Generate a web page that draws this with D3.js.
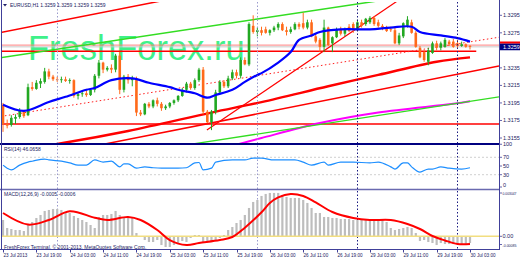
<!DOCTYPE html>
<html><head><meta charset="utf-8">
<script src="https://cdn.jsdelivr.net/npm/d3@7"></script>
<style>body{margin:0;background:#fff}svg{display:block}text{font-family:"Liberation Sans",Arial,sans-serif}</style>
</head><body><svg id="c" width="520" height="260"></svg>
<script>
// ---------- DATA ----------
const titleText = "EURUSD,H1  1.3259 1.3259 1.3259 1.3259";
const watermark = "FreshForex.ru";
const rsiTitle = "RSI(14) 46.0658";
const macdTitle = "MACD(12,26,9) -0.0005 -0.0006";
const copyright = "FreshForex Terminal, \u00A9 2001-2013, MetaQuotes Software Corp.";
const lastPrice = 1.3259;

const timeTickIdx = [0,8,16,24,32,40,48,56,64,72,80,88,96,104,112];
const timeTickLbl = ["23 Jul 2013","23 Jul 19:00","24 Jul 03:00","24 Jul 11:00","24 Jul 19:00","25 Jul 03:00","25 Jul 11:00","25 Jul 19:00","26 Jul 03:00","26 Jul 11:00","26 Jul 19:00","29 Jul 03:00","29 Jul 11:00","29 Jul 19:00","30 Jul 03:00"];
const priceTicks = [1.3295,1.3275,1.3235,1.3215,1.3195,1.3175,1.3155];
const rsiTicks = [100,70,50,30,0];
const rsiLevels = [70,30];
const macdTickVals = [0.003047,0,-0.00085];
const macdTickLbl = ["0.003047","0.00","-0.00085"];
const daySepLight = [13,61];
const daySepDark = [85,109];

const open = [1.3193,1.3171,1.3170,1.3177,1.3179,1.3185,1.3181,1.3213,1.3211,1.3217,
1.3219,1.3231,1.3225,1.3222,1.3221,1.3222,1.3220,1.3221,1.3203,1.3205,
1.3206,1.3204,1.3210,1.3226,1.3241,1.3233,1.3235,1.3233,1.3249,1.3210,
1.3225,1.3221,1.3223,1.3184,1.3182,1.3194,1.3191,1.3198,1.3194,1.3189,
1.3191,1.3195,1.3198,1.3203,1.3210,1.3217,1.3212,1.3221,1.3233,1.3185,
1.3173,1.3185,1.3207,1.3219,1.3214,1.3223,1.3230,1.3226,1.3244,1.3239,
1.3283,1.3276,1.3278,1.3279,1.3275,1.3278,1.3281,1.3285,1.3278,1.3276,
1.3279,1.3285,1.3286,1.3281,1.3287,1.3271,1.3267,1.3259,1.3281,1.3263,
1.3270,1.3279,1.3274,1.3282,1.3285,1.3278,1.3287,1.3285,1.3287,1.3292,
1.3287,1.3283,1.3281,1.3279,1.3278,1.3263,1.3271,1.3283,1.3287,1.3275,
1.3258,1.3253,1.3242,1.3252,1.3263,1.3258,1.3259,1.3265,1.3265,1.3263,
1.3260,1.3262,1.3260];
const high = [1.3195,1.3176,1.3181,1.3182,1.3189,1.3187,1.3217,1.3219,1.3221,1.3223,
1.3235,1.3234,1.3227,1.3225,1.3225,1.3225,1.3223,1.3222,1.3207,1.3209,
1.3211,1.3212,1.3228,1.3244,1.3242,1.3237,1.3239,1.3251,1.3253,1.3227,
1.3228,1.3226,1.3225,1.3187,1.3195,1.3196,1.3199,1.3201,1.3196,1.3193,
1.3196,1.3199,1.3204,1.3212,1.3219,1.3219,1.3223,1.3235,1.3236,1.3187,
1.3187,1.3210,1.3221,1.3221,1.3226,1.3233,1.3233,1.3247,1.3247,1.3287,
1.3295,1.3281,1.3282,1.3282,1.3279,1.3283,1.3287,1.3287,1.3282,1.3282,
1.3287,1.3287,1.3298,1.3290,1.3290,1.3274,1.3269,1.3290,1.3282,1.3271,
1.3281,1.3282,1.3281,1.3285,1.3287,1.3290,1.3290,1.3292,1.3294,1.3294,
1.3290,1.3285,1.3283,1.3282,1.3281,1.3275,1.3287,1.3294,1.3290,1.3277,
1.3260,1.3255,1.3258,1.3265,1.3266,1.3265,1.3269,1.3267,1.3268,1.3267,
1.3265,1.3263,1.3261];
const low = [1.3162,1.3166,1.3168,1.3171,1.3177,1.3178,1.3180,1.3209,1.3210,1.3212,
1.3217,1.3222,1.3220,1.3219,1.3218,1.3219,1.3217,1.3201,1.3199,1.3202,
1.3202,1.3203,1.3207,1.3223,1.3229,1.3231,1.3229,1.3230,1.3205,1.3207,
1.3217,1.3214,1.3180,1.3180,1.3181,1.3189,1.3189,1.3191,1.3186,1.3187,
1.3189,1.3193,1.3196,1.3202,1.3207,1.3210,1.3210,1.3219,1.3182,1.3172,
1.3164,1.3182,1.3205,1.3212,1.3212,1.3221,1.3223,1.3223,1.3238,1.3237,
1.3274,1.3271,1.3272,1.3274,1.3272,1.3276,1.3278,1.3277,1.3272,1.3274,
1.3278,1.3279,1.3279,1.3279,1.3270,1.3263,1.3253,1.3253,1.3260,1.3253,
1.3269,1.3272,1.3271,1.3276,1.3275,1.3277,1.3281,1.3283,1.3285,1.3283,
1.3281,1.3278,1.3276,1.3276,1.3262,1.3261,1.3269,1.3281,1.3274,1.3258,
1.3246,1.3242,1.3238,1.3251,1.3255,1.3255,1.3258,1.3260,1.3258,1.3258,
1.3259,1.3258,1.3256];
const close = [1.3171,1.3169,1.3178,1.3179,1.3186,1.3180,1.3213,1.3211,1.3218,1.3220,
1.3231,1.3225,1.3222,1.3221,1.3222,1.3220,1.3221,1.3203,1.3205,1.3206,
1.3204,1.3210,1.3226,1.3241,1.3233,1.3235,1.3233,1.3249,1.3210,1.3225,
1.3221,1.3223,1.3184,1.3182,1.3194,1.3191,1.3198,1.3194,1.3189,1.3191,
1.3195,1.3198,1.3203,1.3210,1.3217,1.3212,1.3221,1.3233,1.3185,1.3173,
1.3185,1.3207,1.3219,1.3214,1.3223,1.3230,1.3226,1.3244,1.3239,1.3285,
1.3276,1.3278,1.3275,1.3275,1.3278,1.3281,1.3285,1.3278,1.3276,1.3279,
1.3285,1.3282,1.3281,1.3287,1.3271,1.3265,1.3259,1.3281,1.3261,1.3270,
1.3279,1.3274,1.3279,1.3277,1.3278,1.3287,1.3283,1.3291,1.3292,1.3285,
1.3283,1.3281,1.3277,1.3278,1.3263,1.3272,1.3286,1.3290,1.3275,1.3259,
1.3247,1.3244,1.3255,1.3263,1.3258,1.3263,1.3267,1.3262,1.3259,1.3260,
1.3262,1.3259,1.3259];

// moving averages: [bar index, price]
const maBlue = [[0,1.3193],[5,1.3186],[11,1.3196],[15,1.3202],[20,1.3210],[22,1.3212],[26,1.3221],[31,1.3223],[35,1.3218],[40,1.3213],[42,1.3210],[46,1.3206],[49,1.3201],[51,1.3204],[55,1.3210],[58,1.3219],[61,1.3227],[62,1.3229],[66,1.3241],[69,1.3253],[71,1.3267],[74,1.3272],[76,1.3276],[81,1.3279],[88,1.3279],[93,1.3281],[98,1.3282],[100,1.3276],[105,1.3272],[109,1.3269],[112,1.3265]];
const maRed = [[0,1.3139],[14,1.3149],[30,1.3163],[50,1.3184],[62,1.3196],[78,1.3214],[90,1.3227],[104,1.3242],[112,1.3247]];
const maMagenta = [[55,1.3146],[58,1.3150],[62,1.3155],[76,1.3172],[90,1.3184],[108,1.3194],[112,1.3197]];

// trend objects: two anchors [bar index, price]
const trendTopRed = [[0,1.3276],[30,1.3304]];
const trendUpperGreen = [[0,1.3247],[60,1.3290]];
const trendSteepRed = [[48.9,1.3164],[92.3,1.3304]];
const trendDottedRed = [[0,1.3180],[119,1.3270]];
const trendLowerRed = [[26.4,1.3150],[118.9,1.3237]];
const trendLowerGreen = [[48,1.3150],[118.9,1.3202]];
const levelRedThick = {price:1.3254, from:0, to:113.5};
const levelRedLow = 1.3171;
const levelPink = 1.3261;
const levelBid = 1.3259;

// RSI: [bar index, value]
const rsi = [[0,52],[1,45],[2,41],[4,52],[6,59],[7,61],[10,66],[11,64],[14,61],[16,57],[18,52],[20,52],[22,64],[24,59],[26,61],[28,48],[29,55],[30,55],[32,45],[34,48],[36,46],[38,45],[42,45],[44,46],[46,57],[47,58],[48,41],[50,45],[51,59],[55,64],[58,64],[60,68],[62,68],[65,64],[70,64],[72,59],[74,52],[77,59],[78,52],[81,59],[84,59],[88,57],[90,59],[93,48],[94,43],[96,57],[97,57],[98,48],[100,36],[102,43],[103,43],[105,48],[107,45],[110,43],[112,46]];

// MACD histogram per bar
const macdHist = [0.00114,0.00058,0.00051,0.00044,0.00044,0.00037,0.00079,0.00100,0.00128,0.00149,
0.00177,0.00184,0.00191,0.00191,0.00184,0.00170,0.00163,0.00142,0.00128,0.00114,
0.00100,0.00079,0.00058,0.00135,0.00149,0.00149,0.00156,0.00177,0.00149,0.00128,
0.00128,0.00128,0.00023,-0.00005,-0.00026,-0.00040,-0.00040,-0.00026,-0.00061,-0.00075,
-0.00075,-0.00061,-0.00047,-0.00033,-0.00040,-0.00012,0.00009,0.00009,-0.00040,-0.00040,
-0.00040,-0.00026,-0.00012,0.00009,0.00044,0.00065,0.00093,0.00114,0.00149,0.00198,
0.00240,0.00254,0.00282,0.00296,0.00303,0.00303,0.00303,0.00289,0.00275,0.00268,
0.00268,0.00268,0.00254,0.00233,0.00198,0.00163,0.00163,0.00135,0.00135,0.00128,
0.00128,0.00121,0.00121,0.00121,0.00114,0.00114,0.00114,0.00114,0.00114,0.00114,
0.00114,0.00114,0.00100,0.00058,0.00044,0.00051,0.00058,0.00065,0.00058,0.00023,
-0.00033,-0.00026,-0.00040,-0.00047,-0.00061,-0.00047,-0.00054,-0.00054,-0.00054,-0.00054,
-0.00054,-0.00054,-0.00047];
// MACD signal: [bar index, value]
const macdSignal = [[0,0.00163],[6,0.00082],[11,0.00114],[16,0.00175],[22,0.00130],[25,0.00114],[30,0.00135],[33,0.00114],[37,0.00044],[40,-0.00026],[44,-0.00061],[47,-0.00047],[52,-0.00026],[55,-0.00005],[58,0.00060],[62,0.00168],[64,0.00233],[66,0.00272],[69,0.00296],[72,0.00282],[75,0.00237],[79,0.00170],[84,0.00128],[88,0.00114],[93,0.00114],[97,0.00086],[100,0.00051],[103,0.00002],[106,-0.00029],[109,-0.00054],[112,-0.00054]];

// ---------- DRAW ----------
const svg = d3.select("#c");
const PL = 2, PR = 499;
const MAIN = [2,143], RSIP = [145,188], MACDP = [190,249];
const x = d3.scaleLinear().domain([0,112]).range([3,470]);
const yP = d3.scaleLinear().domain([1.3155,1.3295]).range([138,15.3]);
const yR = d3.scaleLinear().domain([0,100]).range([187.75,144.25]);
const yM = d3.scaleLinear().domain([0,0.003047]).range([236.3,192.7]);
const navy = "#202068", txt = "#202060";

svg.append("rect").attr("width",520).attr("height",260).attr("fill","#fff");
const defs = svg.append("defs");
function clip(id, r){ defs.append("clipPath").attr("id",id).append("rect").attr("x",PL).attr("y",r[0]).attr("width",PR-PL).attr("height",r[1]-r[0]); }
clip("cm",MAIN); clip("cr",RSIP); clip("cd",MACDP);

const gm = svg.append("g").attr("clip-path","url(#cm)");
// watermark
gm.append("text").attr("x",28).attr("y",60).attr("font-size",34.5).attr("fill","#2ff07f").attr("opacity",0.92).text(watermark);

// horizontal levels
function hline(g, y, x1, x2, col, w, dash){ g.append("line").attr("x1",x1).attr("x2",x2).attr("y1",y).attr("y2",y).attr("stroke",col).attr("stroke-width",w).attr("stroke-dasharray",dash||null); }
hline(gm, yP(levelPink), PL, PR, "#ff8080", 1);
hline(gm, yP(levelBid), PL, PR, "#c8c8c8", 1);
hline(gm, yP(levelRedThick.price), PL, x(levelRedThick.to), "#ff0000", 1.6);
hline(gm, yP(levelRedLow), PL, PR, "#ff0000", 1.4);

// trendlines extended across the window
function tline(g, a, col, w, dash, ray){
  const x1 = x(a[0][0]), y1 = yP(a[0][1]), x2 = x(a[1][0]), y2 = yP(a[1][1]);
  const s = (y2-y1)/(x2-x1);
  const xs = ray ? x1 : PL - 5, xe = PR;
  g.append("line").attr("x1",xs).attr("y1",y1+s*(xs-x1)).attr("x2",xe).attr("y2",y1+s*(xe-x1))
    .attr("stroke",col).attr("stroke-width",w).attr("stroke-dasharray",dash||null);
}
tline(gm, trendTopRed, "#ff0000", 1.5);
tline(gm, trendUpperGreen, "#33dd22", 1.5);
tline(gm, trendDottedRed, "#ff2020", 1, "1.5,2.5");
tline(gm, trendLowerRed, "#ff0000", 1.5);
tline(gm, trendSteepRed, "#ff0000", 1.2, null, true);

// separators (all panels)
const gs = svg.append("g");
daySepLight.forEach(i=>gs.append("line").attr("x1",Math.round(x(i))+0.5).attr("x2",Math.round(x(i))+0.5).attr("y1",2).attr("y2",249).attr("stroke","#9a9acc").attr("stroke-width",1).attr("stroke-dasharray","1.5,2"));
daySepDark.forEach(i=>gs.append("line").attr("x1",Math.round(x(i))+0.5).attr("x2",Math.round(x(i))+0.5).attr("y1",2).attr("y2",249).attr("stroke","#1a1a80").attr("stroke-width",1).attr("stroke-dasharray","1.5,2"));

// moving averages
const lineP = d3.line().x(d=>x(d[0])).y(d=>yP(d[1])).curve(d3.curveCatmullRom.alpha(0.5));
gm.append("path").attr("d",lineP(maRed)).attr("fill","none").attr("stroke","#ff0000").attr("stroke-width",2.4);
gm.append("path").attr("d",lineP(maMagenta)).attr("fill","none").attr("stroke","#ff00ff").attr("stroke-width",2);
tline(gm, trendLowerGreen, "#33dd22", 1.3);

// candles
const bars = d3.range(open.length).map(i=>({i,o:open[i],h:high[i],l:low[i],c:close[i]}));
const bull = "#22a822", bear = "#ff6a1a";
const cg = gm.append("g");
cg.selectAll("line.w").data(bars).join("line").attr("class","w")
  .attr("x1",d=>x(d.i)).attr("x2",d=>x(d.i)).attr("y1",d=>yP(d.h)).attr("y2",d=>yP(d.l))
  .attr("stroke",d=>d.c>=d.o?bull:bear).attr("stroke-width",1);
cg.selectAll("rect").data(bars).join("rect")
  .attr("x",d=>x(d.i)-1.3).attr("width",2.6)
  .attr("y",d=>yP(Math.max(d.o,d.c))).attr("height",d=>Math.max(0.8,Math.abs(yP(d.o)-yP(d.c))))
  .attr("fill",d=>d.c>=d.o?bull:bear);

gm.append("path").attr("d",lineP(maBlue)).attr("fill","none").attr("stroke","#0000ff").attr("stroke-width",2.2);

// title
svg.append("path").attr("d","M3,4 L7,4 L5,6.5 Z").attr("fill",navy);
svg.append("text").attr("x",10).attr("y",7).attr("font-size",5).attr("fill",txt).text(titleText);

// ---------- RSI ----------
const gr = svg.append("g").attr("clip-path","url(#cr)");
rsiLevels.forEach(v=>hline(gr, yR(v), PL, PR, "#c4c4c4", 0.8, "2,2"));
gr.append("path").attr("d",d3.line().x(d=>x(d[0])).y(d=>yR(d[1])).curve(d3.curveMonotoneX)(rsi))
  .attr("fill","none").attr("stroke","#1e8fff").attr("stroke-width",1.2);
svg.append("text").attr("x",4).attr("y",151).attr("font-size",5).attr("fill",txt).text(rsiTitle);

// ---------- MACD ----------
const gd = svg.append("g").attr("clip-path","url(#cd)");
gd.selectAll("rect").data(macdHist.map((v,i)=>({i,v}))).join("rect")
  .attr("x",d=>x(d.i)-1.1).attr("width",2.2)
  .attr("y",d=>Math.min(yM(d.v),yM(0))).attr("height",d=>Math.abs(yM(d.v)-yM(0)))
  .attr("fill","#bdbdbd");
hline(gd, yM(0), PL, PR, "#f2de80", 1.5);
gd.append("path").attr("d",d3.line().x(d=>x(d[0])).y(d=>yM(d[1])).curve(d3.curveCatmullRom.alpha(0.5))(macdSignal))
  .attr("fill","none").attr("stroke","#ff0000").attr("stroke-width",2);
svg.append("text").attr("x",4).attr("y",196).attr("font-size",5).attr("fill",txt).text(macdTitle);
svg.append("text").attr("x",4).attr("y",248.5).attr("font-size",5).attr("fill",txt).text(copyright);

// ---------- frames ----------
svg.append("line").attr("x1",0).attr("x2",PR).attr("y1",144).attr("y2",144).attr("stroke","#000080").attr("stroke-width",2);
svg.append("line").attr("x1",0).attr("x2",PR).attr("y1",189.5).attr("y2",189.5).attr("stroke","#6a6ab0").attr("stroke-width",1.3);
svg.append("line").attr("x1",1.5).attr("x2",1.5).attr("y1",0).attr("y2",250).attr("stroke","#40409a").attr("stroke-width",1);
svg.append("line").attr("x1",PR+0.5).attr("x2",PR+0.5).attr("y1",0).attr("y2",250).attr("stroke","#40409a").attr("stroke-width",1);
svg.append("line").attr("x1",0).attr("x2",PR+1).attr("y1",249.5).attr("y2",249.5).attr("stroke","#40409a").attr("stroke-width",1);

// price axis
const ga = svg.append("g").attr("font-size",5.5).attr("fill",txt);
priceTicks.forEach(p=>{
  const yy = yP(p);
  hline(ga, yy, PR, PR+3, "#40409a", 0.8);
  ga.append("text").attr("x",503).attr("y",yy+2).text(p.toFixed(4));
});
svg.append("rect").attr("x",PR+1).attr("y",41.5).attr("width",20).attr("height",2.2).attr("fill","#ff0000");
svg.append("rect").attr("x",PR+1).attr("y",yP(lastPrice)-3.2).attr("width",20).attr("height",6.6).attr("fill","#000080");
svg.append("text").attr("x",503).attr("y",yP(lastPrice)+2).attr("font-size",5.5).attr("fill","#fff").text(lastPrice.toFixed(4));

// RSI axis
rsiTicks.forEach(v=>{
  const yy = Math.min(yR(v),184.5);
  hline(ga, yR(v)>187?187:yR(v), PR, PR+3, "#40409a", 0.8);
  ga.append("text").attr("x",503).attr("y",yy+2).text(v);
});
// MACD axis
macdTickVals.forEach((v,k)=>{
  const yy = Math.max(193, Math.min(yM(v),244.5));
  hline(ga, yy, PR, PR+3, "#40409a", 0.8);
  const t = ga.append("text").attr("x",502.5).attr("y",yy+2).text(macdTickLbl[k]);
  if (macdTickLbl[k].length > 5) t.attr("font-size",4.4).attr("textLength",14).attr("lengthAdjust","spacingAndGlyphs");
});

// time axis
const gt = svg.append("g").attr("font-size",4.6).attr("fill",txt);
timeTickIdx.forEach((i,k)=>{
  const xx = Math.round(x(i))+0.5;
  gt.append("line").attr("x1",xx).attr("x2",xx).attr("y1",249.5).attr("y2",252.5).attr("stroke","#40409a").attr("stroke-width",1);
  gt.append("text").attr("x",xx).attr("y",257).text(timeTickLbl[k]);
});
</script></body></html>
